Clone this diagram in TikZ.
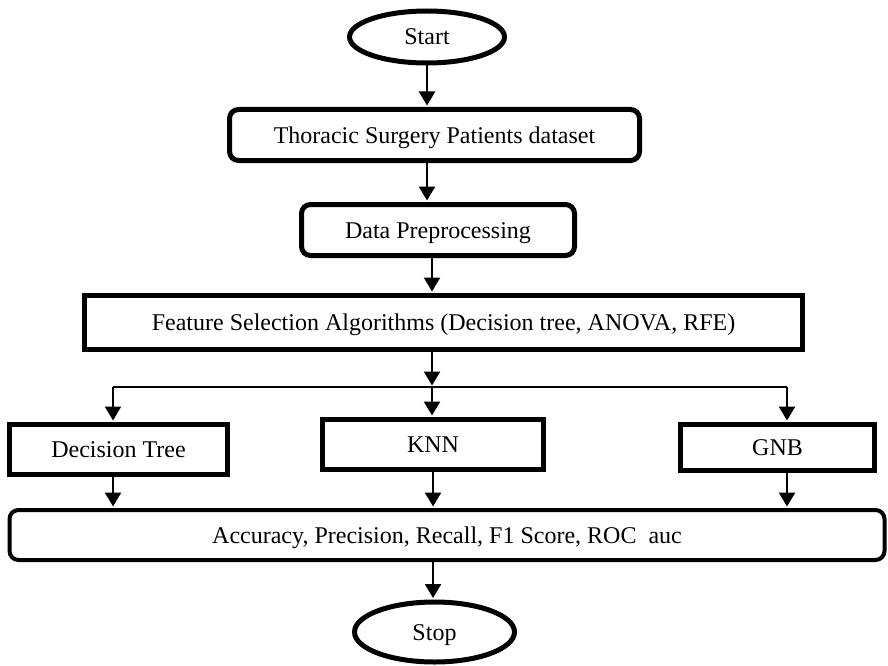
\documentclass[tikz,border=0pt]{standalone}
\usepackage{fontspec}
\setmainfont{Liberation Serif}
\usetikzlibrary{arrows.meta,shapes.geometric}
\begin{document}
\begin{tikzpicture}[x=1pt,y=-1pt,
  font=\fontsize{24}{28}\selectfont,
  every node/.style={inner sep=0pt, text height=18pt, text depth=2pt},
  sqbox/.style={draw, line width=5pt, rectangle},
  rbox/.style={draw, line width=5pt, rectangle, rounded corners=9pt},
  thinrbox/.style={draw, line width=4pt, rectangle, rounded corners=9pt},
  term/.style={draw, line width=5pt, ellipse, inner sep=0pt},
  arr/.style={line width=2.5pt, -{Triangle[width=16pt,length=14pt]}, shorten >=1.5pt},
  link/.style={line width=2pt}]
\useasboundingbox (0,0) rectangle (888,666);

\node[term, minimum width=155pt, minimum height=52pt] (start) at (427,37) {Start};
\node[rbox, minimum width=410pt, minimum height=51pt] (thor) at (434.5,135) {Thoracic Surgery Patients dataset};
\node[rbox, minimum width=273pt, minimum height=51pt] (data) at (438,230) {Data Preprocessing};
\node[sqbox, minimum width=718pt, minimum height=54pt] (feat) at (443.5,322.5) {Feature Selection Algorithms (Decision tree, ANOVA, RFE)};
\node[sqbox, minimum width=218pt, minimum height=50pt] (dt) at (118.5,449.5) {Decision Tree};
\node[sqbox, minimum width=221pt, minimum height=50pt] (knn) at (433,444.5) {KNN};
\node[sqbox, minimum width=194pt, minimum height=46pt] (gnb) at (777.5,447.5) {GNB};
\node[thinrbox, minimum width=875pt, minimum height=50pt] (acc) at (447,535) {Accuracy, Precision, Recall, F1 Score, ROC\ \ auc};
\node[term, minimum width=160pt, minimum height=60pt] (stop) at (434.5,632) {Stop};

\coordinate (split) at (432,387);
\coordinate (sl) at (113,387);
\coordinate (sr) at (787,387);

\draw[arr] (start.south) -- (start.south |- thor.north);
\draw[arr] (thor.south -| start) -- (data.north -| start);
\draw[arr] (data.south -| split) -- (feat.north -| split);
\draw[arr] (feat.south -| split) -- (split);
\draw[link] (sl) -- (sr);
\draw[arr] (sl) -- (sl |- dt.north);
\draw[arr] (split) -- (split |- knn.north);
\draw[arr] (sr) -- (sr |- gnb.north);
\draw[arr] (sl |- dt.south) -- (sl |- acc.north);
\draw[arr] (knn.south) -- (knn.south |- acc.north);
\draw[arr] (sr |- gnb.south) -- (sr |- acc.north);
\draw[arr] (knn |- acc.south) -- (knn |- stop.north);
\end{tikzpicture}
\end{document}
